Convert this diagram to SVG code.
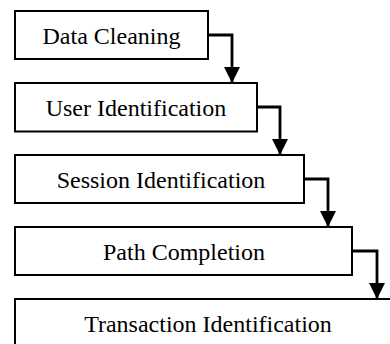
<svg xmlns="http://www.w3.org/2000/svg" width="390" height="344" viewBox="0 0 390 344">
  <style>
    .box { fill: #ffffff; stroke: #000000; stroke-width: 2; }
    .label { font-family: 'Liberation Serif', 'DejaVu Serif', serif; font-size: 24px; fill: #000000; text-anchor: middle; }
    .link { fill: none; stroke: #000000; stroke-width: 2.8; }
  </style>
  <defs>
    <marker id="arrow" markerUnits="userSpaceOnUse" markerWidth="17" markerHeight="16" refX="16" refY="8" orient="auto">
      <path d="M0,0 L16,8 L0,16 Z" fill="#000000"/>
    </marker>
  </defs>
  <rect width="390" height="344" fill="#ffffff"/>

  <g id="step-data-cleaning">
    <rect class="box" x="15" y="11" width="193" height="48"/>
    <text class="label" font-family="Liberation Serif, serif" x="111.5" y="44">Data Cleaning</text>
  </g>
  <g id="step-user-identification">
    <rect class="box" x="15" y="83" width="242" height="48.5"/>
    <text class="label" font-family="Liberation Serif, serif" x="136" y="116">User Identification</text>
  </g>
  <g id="step-session-identification">
    <rect class="box" x="15" y="155" width="289" height="48"/>
    <text class="label" font-family="Liberation Serif, serif" x="161" y="188">Session Identification</text>
  </g>
  <g id="step-path-completion">
    <rect class="box" x="15" y="227" width="337" height="48"/>
    <text class="label" font-family="Liberation Serif, serif" x="184" y="260">Path Completion</text>
  </g>
  <g id="step-transaction-identification">
    <rect class="box" x="15" y="299" width="385" height="48"/>
    <text class="label" font-family="Liberation Serif, serif" x="208" y="332">Transaction Identification</text>
  </g>

  <g id="connectors">
    <path class="link" d="M208,35 H232 V83" marker-end="url(#arrow)"/>
    <path class="link" d="M257,107 H280 V155" marker-end="url(#arrow)"/>
    <path class="link" d="M304,179 H328 V227" marker-end="url(#arrow)"/>
    <path class="link" d="M352,251 H377 V299" marker-end="url(#arrow)"/>
  </g>
</svg>
